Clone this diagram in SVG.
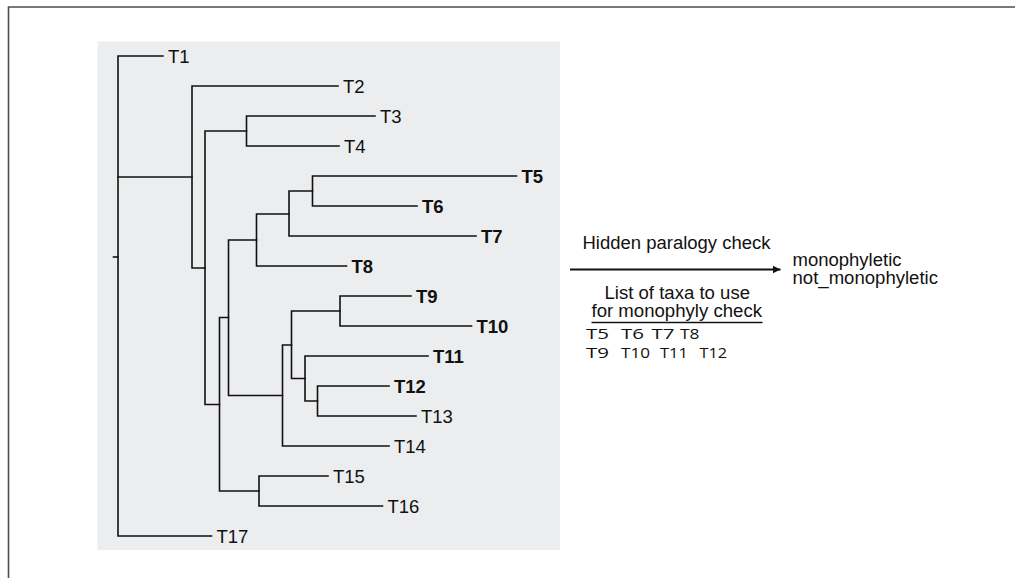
<svg xmlns="http://www.w3.org/2000/svg" width="1015" height="578" viewBox="0 0 1015 578">
  <style>
    .frame { stroke: #4d4d4d; stroke-width: 1.6; fill: none; }
    .br { stroke: #111; stroke-width: 1.6; fill: none; stroke-linecap: square; }
    .lab { font-family: "Liberation Sans", Arial, sans-serif; font-size: 18.5px; fill: #111; }
    .sel { font-weight: bold; }
    .note { font-family: "Liberation Sans", Arial, sans-serif; font-size: 17.5px; fill: #111; }
    .taxa { font-family: "Open Sans", "Noto Sans", sans-serif; font-size: 15px; fill: #111; }
  </style>
  <defs>
    <marker id="head" viewBox="0 0 10 10" refX="10" refY="5" markerWidth="8" markerHeight="8" markerUnits="userSpaceOnUse" orient="auto">
      <path d="M0,0 L10,5 L0,10 Z" fill="#111"/>
    </marker>
  </defs>

  <!-- outer frame (top and left edges) -->
  <path class="frame" d="M8.5,578 V7 H1015"/>

  <!-- tree panel background -->
  <rect x="97.5" y="41.5" width="462.5" height="508.5" fill="#ecedef"/>

  <!-- branches -->
  <g id="branches" class="br">
    <!-- root -->
    <path d="M163,56 H118 V536 H211.5"/>
    <path d="M113.5,257 H118"/>
    <path d="M118,177 H192"/>
    <!-- node A -->
    <path d="M338,86 H192 V268 H205"/>
    <!-- node B -->
    <path d="M246.5,131 H205 V404.5 H219.5"/>
    <!-- T3/T4 -->
    <path d="M375,116 H246.5 V146 H339"/>
    <!-- node C -->
    <path d="M228.5,317.5 H219.5 V491 H259"/>
    <!-- T15/T16 -->
    <path d="M328,476 H259 V506 H382.5"/>
    <!-- node D -->
    <path d="M256.5,240 H228.5 V395.5 H282.5"/>
    <!-- node E -->
    <path d="M289,214 H256.5 V266 H346.5"/>
    <!-- node G -->
    <path d="M312.5,191 H289 V236 H476"/>
    <!-- T5/T6 -->
    <path d="M516.5,176 H312.5 V206 H417"/>
    <!-- node F -->
    <path d="M291.5,345 H282.5 V446 H389"/>
    <!-- node I -->
    <path d="M340,311 H291.5 V378.5 H305"/>
    <!-- T9/T10 -->
    <path d="M411,296 H340 V326 H471.5"/>
    <!-- node K -->
    <path d="M428,356 H305 V401 H317.5"/>
    <!-- T12/T13 -->
    <path d="M389,386 H317.5 V416 H416"/>
  </g>

  <!-- leaf labels -->
  <g id="leaf-T1"><text class="lab" x="168" y="62.5">T1</text></g>
  <g id="leaf-T2"><text class="lab" x="343" y="92.5">T2</text></g>
  <g id="leaf-T3"><text class="lab" x="380" y="122.5">T3</text></g>
  <g id="leaf-T4"><text class="lab" x="344" y="152.5">T4</text></g>
  <g id="leaf-T5"><text class="lab sel" x="521.5" y="182.5">T5</text></g>
  <g id="leaf-T6"><text class="lab sel" x="422" y="212.5">T6</text></g>
  <g id="leaf-T7"><text class="lab sel" x="481" y="242.5">T7</text></g>
  <g id="leaf-T8"><text class="lab sel" x="351.5" y="272.5">T8</text></g>
  <g id="leaf-T9"><text class="lab sel" x="416" y="302.5">T9</text></g>
  <g id="leaf-T10"><text class="lab sel" x="476.5" y="332.5">T10</text></g>
  <g id="leaf-T11"><text class="lab sel" x="433" y="362.5">T11</text></g>
  <g id="leaf-T12"><text class="lab sel" x="394" y="392.5">T12</text></g>
  <g id="leaf-T13"><text class="lab" x="421" y="422.5">T13</text></g>
  <g id="leaf-T14"><text class="lab" x="394" y="452.5">T14</text></g>
  <g id="leaf-T15"><text class="lab" x="333" y="482.5">T15</text></g>
  <g id="leaf-T16"><text class="lab" x="387.5" y="512.5">T16</text></g>
  <g id="leaf-T17"><text class="lab" x="216.5" y="542.5">T17</text></g>

  <!-- check arrow -->
  <g id="connectors">
    <path d="M570,269.5 H780.5" stroke="#111" stroke-width="1.8" fill="none" marker-end="url(#head)"/>
  </g>

  <g id="check-label">
    <text class="note" x="582.5" y="249" textLength="188" lengthAdjust="spacingAndGlyphs">Hidden paralogy check</text>
  </g>

  <g id="outcomes">
    <text class="note" x="792.5" y="266" textLength="109" lengthAdjust="spacingAndGlyphs">monophyletic</text>
    <text class="note" x="792.5" y="284" textLength="145.5" lengthAdjust="spacingAndGlyphs">not_monophyletic</text>
  </g>

  <g id="taxa-list">
    <text class="note" x="604.5" y="298.5" textLength="145.5" lengthAdjust="spacingAndGlyphs">List of taxa to use</text>
    <text class="note" x="591.5" y="317" textLength="170.5" lengthAdjust="spacingAndGlyphs">for monophyly check</text>
    <path d="M591.5,322.5 H762.5" stroke="#111" stroke-width="1.4"/>
    <text class="taxa" x="586" y="339" textLength="23" lengthAdjust="spacingAndGlyphs">T5</text>
    <text class="taxa" x="621" y="339" textLength="23" lengthAdjust="spacingAndGlyphs">T6</text>
    <text class="taxa" x="651.5" y="339" textLength="23" lengthAdjust="spacingAndGlyphs">T7</text>
    <text class="taxa" x="680" y="339" textLength="19.5" lengthAdjust="spacingAndGlyphs">T8</text>
    <text class="taxa" x="586" y="357.5" textLength="23" lengthAdjust="spacingAndGlyphs">T9</text>
    <text class="taxa" x="621" y="357.5" textLength="29" lengthAdjust="spacingAndGlyphs">T10</text>
    <text class="taxa" x="660" y="357.5" textLength="28" lengthAdjust="spacingAndGlyphs">T11</text>
    <text class="taxa" x="699.5" y="357.5" textLength="27.5" lengthAdjust="spacingAndGlyphs">T12</text>
  </g>
</svg>
